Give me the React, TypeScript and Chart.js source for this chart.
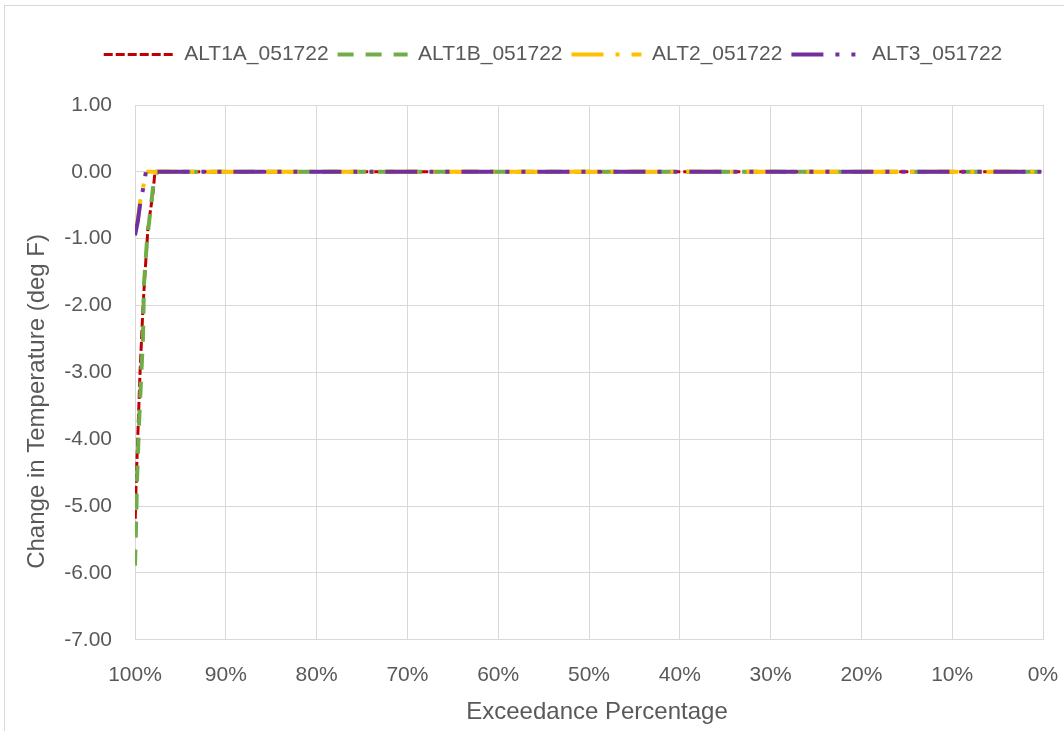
import React, { useEffect, useRef } from "react";
import { Chart, registerables } from "chart.js";

Chart.register(...registerables);

const seriesNames = ["ALT1A_051722", "ALT1B_051722", "ALT2_051722", "ALT3_051722"];
const seriesColors = ["#C00000", "#70AD47", "#FFC000", "#7030A0"];

const exceedAlt1A = [100, 99.89, 99.67, 99.45, 99.12, 98.9, 98.57, 98.02, 97.8, 0];
const valuesAlt1A = [-5.37, -4.72, -3.87, -3.02, -2.02, -1.52, -0.84, -0.31, 0, 0];

const exceedAlt1B = [100, 99.89, 99.78, 99.56, 99.34, 99.12, 99.01, 98.68, 98.35, 98.02, 97.58, 0];
const valuesAlt1B = [-5.89, -5.32, -4.62, -3.77, -3.12, -2.48, -1.67, -1.03, -0.63, -0.24, 0, 0];

const exceedAlt2 = [100, 99.7, 99.4, 99.0, 98.75, 0];
const valuesAlt2 = [-0.88, -0.72, -0.42, -0.16, 0, 0];

const exceedAlt3 = [100, 99.7, 99.4, 99.0, 98.8, 0];
const valuesAlt3 = [-0.95, -0.75, -0.45, -0.18, 0, 0];

const xTickStep = 10;
const yTickStep = 1;
const xTitle = "Exceedance Percentage";
const yTitle = "Change in Temperature (deg F)";

const FONT = "'Liberation Sans', Arial, sans-serif";
const TEXT = "#595959";

function pts(xs: number[], ys: number[]) {
  return xs.map((x, i) => ({ x, y: ys[i] }));
}

export default function App() {
  const ref = useRef<HTMLCanvasElement | null>(null);

  useEffect(() => {
    if (!ref.current) return;
    const widths = [3, 4, 4, 4];
    const dashes = [
      [9, 3],
      [16, 12],
      [32, 12, 4, 12],
      [32, 12, 4, 12, 4, 12],
    ];
    const all = [
      pts(exceedAlt1A, valuesAlt1A),
      pts(exceedAlt1B, valuesAlt1B),
      pts(exceedAlt2, valuesAlt2),
      pts(exceedAlt3, valuesAlt3),
    ];
    const datasets = seriesNames.map((name, i) => ({
      label: name,
      data: all[i],
      borderColor: seriesColors[i],
      backgroundColor: seriesColors[i],
      borderWidth: widths[i],
      borderDash: dashes[i],
      borderCapStyle: "butt" as const,
      pointRadius: 0,
      pointHoverRadius: 0,
      tension: 0,
      fill: false,
      order: 3 - i,
    }));

    const legendSpacer = {
      id: "legendSpacer",
      beforeInit(chart: any) {
        const orig = chart.legend.fit;
        chart.legend.fit = function fit() {
          orig.bind(chart.legend)();
          this.height += 30;
        };
      },
    };

    const axisTitles = {
      id: "axisTitles",
      afterDraw(chart: any) {
        const { ctx, chartArea } = chart;
        ctx.save();
        ctx.fillStyle = TEXT;
        ctx.font = `24px ${FONT}`;
        ctx.textAlign = "center";
        ctx.textBaseline = "middle";
        ctx.fillText(xTitle, (chartArea.left + chartArea.right) / 2 + 8, chartArea.bottom + 73);
        ctx.translate(32, (chartArea.top + chartArea.bottom) / 2 + 29);
        ctx.rotate(-Math.PI / 2);
        ctx.fillText(yTitle, 0, 0);
        ctx.restore();
      },
    };

    const chart = new Chart(ref.current, {
      type: "line",
      data: { datasets },
      plugins: [legendSpacer, axisTitles],
      options: {
        animation: false,
        responsive: false,
        layout: { padding: { top: 29, left: 58, right: 62, bottom: 21 } },
        plugins: {
          tooltip: { enabled: false },
          legend: {
            position: "top",
            labels: {
              usePointStyle: true,
              pointStyle: "line",
              pointStyleWidth: 70,
              boxHeight: 21,
              padding: 9,
              color: TEXT,
              font: { size: 21, family: FONT },
              generateLabels: (c: any) =>
                c.data.datasets.map((ds: any, i: number) => ({
                  text: ds.label,
                  fillStyle: ds.borderColor,
                  strokeStyle: ds.borderColor,
                  lineWidth: ds.borderWidth,
                  lineDash: ds.borderDash,
                  lineCap: "butt",
                  pointStyle: "line",
                  fontColor: TEXT,
                  hidden: false,
                  datasetIndex: i,
                })),
            },
          },
        },
        scales: {
          x: {
            type: "linear",
            reverse: true,
            min: 0,
            max: 100,
            grid: { color: "#D9D9D9", lineWidth: 1, drawTicks: false },
            border: { color: "#D9D9D9" },
            ticks: {
              stepSize: xTickStep,
              padding: 23,
              color: TEXT,
              font: { size: 21, family: FONT },
              maxRotation: 0,
              callback: (v: any) => `${v}%`,
            },
          },
          y: {
            min: -7,
            max: 1,
            afterFit: (s: any) => {
              s.width = 72;
            },
            grid: { color: "#D9D9D9", lineWidth: 1, drawTicks: false },
            border: { color: "#D9D9D9" },
            ticks: {
              stepSize: yTickStep,
              padding: 23,
              color: TEXT,
              font: { size: 21, family: FONT },
              callback: (v: any) => Number(v).toFixed(2),
            },
          },
        },
      },
    });
    return () => chart.destroy();
  }, []);

  return (
    <div style={{ position: "fixed", left: 0, top: 0, width: 1064, height: 731, overflow: "hidden", background: "#fff" }}>
      <div style={{ position: "absolute", left: 4, top: 5, width: 1100, height: 740, border: "1px solid #D9D9D9" }}>
        <canvas ref={ref} width={1100} height={726} style={{ display: "block", width: 1100, height: 726 }} />
      </div>
    </div>
  );
}
